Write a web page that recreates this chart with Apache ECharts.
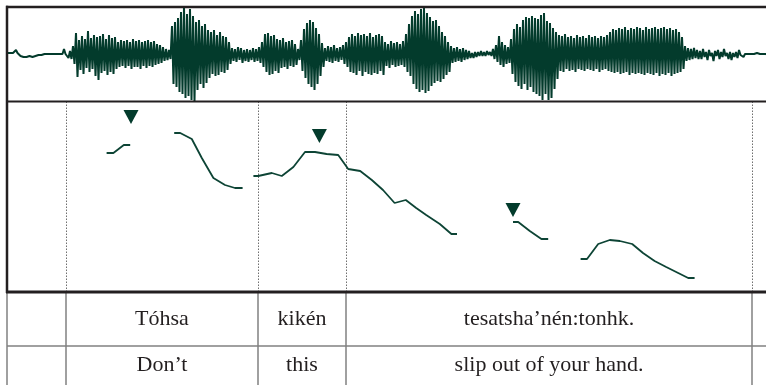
<!DOCTYPE html>
<html>
<head>
<meta charset="utf-8">
<script src="https://cdn.jsdelivr.net/npm/echarts/dist/echarts.min.js"></script>
<style>
html, body { margin: 0; padding: 0; background: #fff; }
#chart { width: 766px; height: 385px; }
</style>
</head>
<body>
<div id="chart"></div>
<script>
// Time axis in milliseconds, shared by all three panels.
const T_MAX = 1900;
const WAVE_STEP = 7.5; // ms between waveform peak columns

// Waveform: positive and negative peak per column (arbitrary amplitude units).
const waveHi = [
  1,1,1,4,1,-2,-2,-1,-1,-1,0,0,1,1,1,1,1,2,2,5,2,3,
  8,21,14,18,15,23,16,19,17,18,20,15,19,16,17,
  12,14,13,14,12,15,13,14,12,13,14,12,13,10,9,7,5,4,
  28,32,36,42,47,40,45,38,32,34,28,30,24,22,24,19,22,18,17,12,
  6,5,7,6,4,5,4,6,5,7,
  12,20,21,18,19,15,14,16,12,13,14,10,5,
  14,25,31,34,32,26,20,11,
  6,8,7,9,6,7,9,
  12,17,20,18,21,19,20,18,21,17,19,20,18,
  12,10,13,11,12,10,13,
  20,30,38,43,40,45,46,41,37,33,34,28,22,18,12,
  8,6,7,5,6,4,3,
  1,2,2,3,2,3,2,
  5,9,18,12,9,7,
  15,25,30,27,34,37,36,38,36,35,39,41,33,31,26,22,
  19,18,20,17,18,16,19,17,18,16,19,17,18,16,18,17,19,
  22,25,24,26,25,27,24,26,25,27,26,24,27,25,26,27,25,26,27,25,26,24,25,22,17,
  8,6,5,6,4,
  3,5,2,4,1,3,4,2,5,1,2,1,2,4,1,0,0,0,0,1,0,0,0
];
const waveLo = [
  -1,0,0,1,-2,-3,-3,-2,-3,-2,-1,-1,0,0,0,0,0,0,0,0,-4,-5,
  -10,-23,-16,-20,-14,-18,-15,-22,-26,-19,-17,-21,-18,-20,-15,
  -13,-12,-14,-12,-15,-13,-13,-15,-12,-14,-12,-13,-11,-10,-9,-7,-6,-5,
  -30,-33,-38,-40,-44,-42,-46,-47,-36,-30,-34,-29,-24,-20,-22,-21,-18,-19,-16,-10,
  -7,-8,-6,-9,-7,-8,-6,-8,-7,-9,
  -13,-18,-21,-20,-17,-19,-14,-13,-15,-12,-13,-11,-6,
  -17,-24,-30,-33,-36,-30,-22,-13,
  -7,-8,-9,-7,-8,-6,-10,
  -13,-18,-19,-21,-17,-22,-18,-20,-21,-19,-20,-17,-21,
  -12,-14,-11,-13,-12,-11,-13,
  -18,-22,-30,-35,-38,-36,-39,-37,-32,-29,-27,-28,-25,-21,-18,
  -9,-8,-7,-8,-6,-5,-4,
  -4,-3,-2,-2,-2,-1,-2,
  -5,-8,-11,-13,-10,-9,
  -20,-28,-32,-35,-30,-36,-33,-38,-40,-42,-46,-40,-46,-44,-35,-25,
  -17,-18,-15,-17,-16,-18,-15,-16,-17,-15,-16,-17,-15,-18,-16,-15,-17,
  -18,-19,-18,-20,-19,-18,-21,-19,-20,-19,-20,-21,-19,-20,-21,-19,-22,-20,-21,-19,-22,-20,-19,-18,-15,
  -7,-6,-5,-4,-5,
  -5,-3,-6,-2,-7,-2,-5,-3,-2,-5,-6,-3,-4,-1,-3,-2,-2,-1,-1,-1,-1,-1,-1
];

// Pitch track (ms, Hz), one array per voiced stretch.
const pitch1 = [[249,219],[266,219],[292,227],[308,227]];
const pitch2 = [[418,239],[433,239],[462,233],[487,214],[516,194],[545,187],[570,184],[589,184]];
const pitch3 = [[616,196],[628,196],[662,199],[687,196],[716,205],[745,220],[770,220],[799,218],
                [828,217],[853,203],[883,201],[912,192],[940,182],[969,169],[997,172],[1023,164],
                [1048,157],[1082,148],[1111,138],[1125,138]];
const pitch4 = [[1265,150],[1278,150],[1307,141],[1336,133],[1353,133]];
const pitch5 = [[1434,113],[1450,113],[1478,128],[1507,132],[1532,131],[1563,128],[1590,119],
                [1619,111],[1648,105],[1678,99],[1703,94],[1719,94]];

// Stressed syllables (ms, Hz).
const stressMarks = [[310,255],[781,236],[1265,162]];

// Word boundaries (ms).
const boundaries = [147.5, 627.5, 847.5, 1862.5];

// Transcription and gloss.
const words = ['Tóhsa', 'kikén', 'tesatsha’nén:tonhk.'];
const glosses = ['Don’t', 'this', 'slip out of your hand.'];

const INK = '#033b2c';
const FRAME = '#231f20';
const RULE = '#808080';

const wavePoints = [];
waveHi.forEach((hi, i) => {
  wavePoints.push([i * WAVE_STEP, hi]);
  wavePoints.push([i * WAVE_STEP + WAVE_STEP / 2, waveLo[i]]);
});

const tableCells = [];
words.forEach((w, i) => {
  const mid = (boundaries[i] + boundaries[i + 1]) / 2;
  tableCells.push({ value: [mid, 27], text: w });
  tableCells.push({ value: [mid, 73], text: glosses[i] });
});

const chart = echarts.init(document.getElementById('chart'), null, { renderer: 'canvas' });

const xAxisBase = { type: 'value', min: 0, max: T_MAX, show: false };
const gridBase = { left: 7, width: 760, outerBoundsMode: 'none', containLabel: false, show: false };

const pitchLine = (data, extra) => Object.assign({
  type: 'line', xAxisIndex: 2, yAxisIndex: 2, data: data,
  showSymbol: false, symbol: 'none', silent: true,
  lineStyle: { color: '#0d4435', width: 1.8 }, z: 5
}, extra || {});

chart.setOption({
  animation: false,
  backgroundColor: '#ffffff',
  grid: [
    Object.assign({ top: 292, height: 100 }, gridBase), // transcription table
    Object.assign({ top: 7, height: 94 }, gridBase),    // waveform
    Object.assign({ top: 101, height: 191 }, gridBase)  // pitch
  ],
  xAxis: [
    Object.assign({ gridIndex: 0 }, xAxisBase),
    Object.assign({ gridIndex: 1 }, xAxisBase),
    Object.assign({ gridIndex: 2 }, xAxisBase)
  ],
  yAxis: [
    { gridIndex: 0, type: 'value', min: 0, max: 100, inverse: true, show: false },
    { gridIndex: 1, type: 'value', min: -47, max: 47, show: false },
    { gridIndex: 2, type: 'value', min: 80, max: 271, show: false }
  ],
  // panel frame
  graphic: [
    { type: 'line', shape: { x1: 7, y1: 292, x2: 7, y2: 385 }, style: { stroke: RULE, lineWidth: 1.5 }, silent: true, z: 1 },
    { type: 'line', shape: { x1: 7, y1: 5.8, x2: 7, y2: 293 }, style: { stroke: FRAME, lineWidth: 2.5 }, silent: true, z: 10 },
    { type: 'line', shape: { x1: 6, y1: 7, x2: 766, y2: 7 }, style: { stroke: FRAME, lineWidth: 2.5 }, silent: true, z: 10 },
    { type: 'line', shape: { x1: 6, y1: 101.5, x2: 766, y2: 101.5 }, style: { stroke: FRAME, lineWidth: 2.2 }, silent: true, z: 10 },
    { type: 'line', shape: { x1: 6, y1: 292, x2: 766, y2: 292 }, style: { stroke: FRAME, lineWidth: 3 }, silent: true, z: 10 }
  ],
  series: [
    {
      type: 'line', xAxisIndex: 1, yAxisIndex: 1, data: wavePoints,
      showSymbol: false, symbol: 'none', silent: true, sampling: null,
      lineStyle: { color: INK, width: 2 }, z: 3
    },
    pitchLine(pitch1, {
      markLine: {
        silent: true, symbol: ['none', 'none'], label: { show: false },
        lineStyle: { color: '#6f6f6f', width: 1, type: [1.5, 1.5] },
        data: boundaries.map(b => ({ xAxis: b }))
      }
    }),
    pitchLine(pitch2),
    pitchLine(pitch3),
    pitchLine(pitch4),
    pitchLine(pitch5),
    {
      type: 'scatter', xAxisIndex: 2, yAxisIndex: 2, data: stressMarks,
      symbol: 'triangle', symbolRotate: 180, symbolSize: [15, 14],
      itemStyle: { color: INK, opacity: 1 }, silent: true, z: 6
    },
    {
      type: 'custom', xAxisIndex: 0, yAxisIndex: 0, data: tableCells, silent: true,
      renderItem: (params, api) => {
        const p = api.coord([api.value(0), api.value(1)]);
        return {
          type: 'text', x: p[0], y: p[1],
          style: {
            text: tableCells[params.dataIndex].text,
            font: '22px "Liberation Serif", "DejaVu Serif", serif',
            fill: '#231f20', align: 'center', verticalAlign: 'middle'
          }
        };
      },
      markLine: {
        silent: true, symbol: ['none', 'none'], label: { show: false },
        lineStyle: { color: RULE, width: 1.5, type: 'solid' },
        data: boundaries.map(b => ({ xAxis: b })).concat([{ yAxis: 54 }])
      }
    }
  ]
});
</script>
</body>
</html>
